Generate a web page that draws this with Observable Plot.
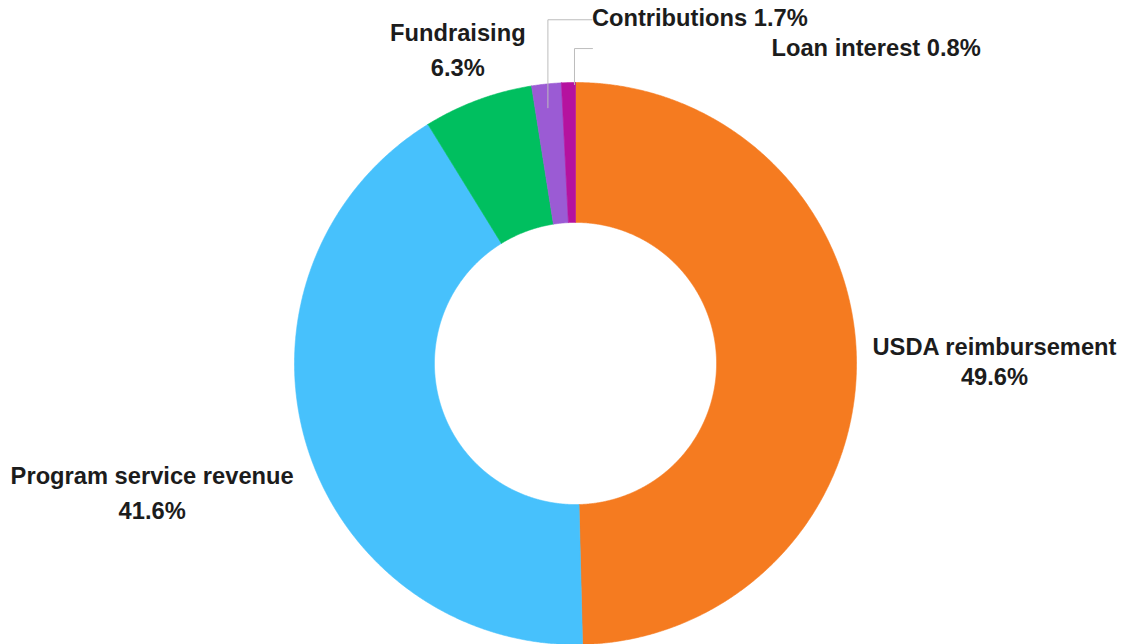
<!DOCTYPE html>
<html><head><meta charset="utf-8">
<script src="https://cdn.jsdelivr.net/npm/d3@7"></script>
<script src="https://cdn.jsdelivr.net/npm/@observablehq/plot@0.6"></script>
<style>html,body{margin:0;padding:0;background:#fff;overflow:hidden}</style>
</head><body><div id="chart"></div>
<script>
// ---- data ----
const categories = ["USDA reimbursement", "Program service revenue", "Fundraising", "Contributions", "Loan interest"];
const shares = [49.6, 41.6, 6.3, 1.7, 0.8];
const shareLabels = ["49.6%", "41.6%", "6.3%", "1.7%", "0.8%"];
const colors = ["#f57b20", "#47c1fc", "#00bf5f", "#9b5bd4", "#b5129f"];

// ---- geometry (unit circle, scaled by Plot's x/y scales) ----
const W = 1123, H = 644;
const PX = 281;                 // pixels per unit radius
const CX = 575, CY = 363;       // centre in pixels
const OUTER = 1, INNER = 0.502;

const pie = d3.pie().sort(null).value((d, i) => shares[i]).startAngle(0).endAngle(2 * Math.PI);
const arcs = pie(categories);

const rows = [];
arcs.forEach((a, i) => {
  const name = categories[i];
  const n = Math.max(2, Math.ceil((a.endAngle - a.startAngle) / (Math.PI / 720)));
  const pts = [];
  for (let k = 0; k <= n; k++) {
    const t = a.startAngle + (a.endAngle - a.startAngle) * k / n;
    pts.push([OUTER * Math.sin(t), OUTER * Math.cos(t)]);
  }
  for (let k = n; k >= 0; k--) {
    const t = a.startAngle + (a.endAngle - a.startAngle) * k / n;
    pts.push([INNER * Math.sin(t), INNER * Math.cos(t)]);
  }
  pts.push(pts[0]);
  pts.forEach(([x, y], j) => rows.push({name, x, y, j}));
});

const slices = arcs.map((a, i) => {
  const mid = (a.startAngle + a.endAngle) / 2;
  return {name: categories[i], share: shareLabels[i], mid, ax: Math.sin(mid), ay: Math.cos(mid)};
});
const byName = Object.fromEntries(slices.map(s => [s.name, s]));

// ---- label layout (pixel offsets from each slice's outer mid-point) ----
const font = "'Liberation Sans', Arial, sans-serif";
const FS = 23.7;
const blockLabels = [
  {name: "USDA reimbursement", dx: 138, dy: 0.5, lineHeight: 1.24},
  {name: "Program service revenue", dx: -154, dy: 46.5, lineHeight: 1.5},
  {name: "Fundraising", dx: -20, dy: -52.5, lineHeight: 1.47}
];
const leaderLabels = [
  {name: "Contributions", r: 0.915, shiftX: -1, up: 88, run: 44, gap: 0, tdy: -1.4},
  {name: "Loan interest", r: 0.993, shiftX: 6, up: 36, run: 18, gap: 179, tdy: -0.4}
];

const marks = [
  Plot.line(rows, {x: "x", y: "y", z: "name", fill: "name", stroke: "name", strokeWidth: 0.6, curve: "linear"})
];

for (const L of blockLabels) {
  const s = byName[L.name];
  marks.push(Plot.text([s], {
    x: "ax", y: "ay", text: d => d.name + "\n" + d.share,
    dx: L.dx, dy: L.dy, lineHeight: L.lineHeight,
    fontSize: FS, fontWeight: "bold", fontFamily: font, fill: "#1c1c1c", textAnchor: "middle"
  }));
}

for (const L of leaderLabels) {
  const s = byName[L.name];
  const x0 = L.r * Math.sin(s.mid) + L.shiftX / PX;
  const y0 = L.r * Math.cos(s.mid);
  const y1 = y0 + L.up / PX;
  const x2 = x0 + L.run / PX;
  const pts = [{x: x0, y: y0}, {x: x0, y: y1}, {x: x2, y: y1}];
  marks.push(Plot.line(pts, {x: "x", y: "y", stroke: "#bdbdbd", strokeWidth: 1}));
  marks.push(Plot.text([{x: x2, y: y1, t: s.name + " " + s.share}], {
    x: "x", y: "y", text: "t", dx: L.gap, dy: L.tdy,
    fontSize: FS, fontWeight: "bold", fontFamily: font, fill: "#1c1c1c", textAnchor: "start"
  }));
}

const chart = Plot.plot({
  width: W, height: H, margin: 0,
  style: {background: "#fff", fontFamily: font},
  x: {domain: [-CX / PX, (W - CX) / PX], axis: null},
  y: {domain: [-(H - CY) / PX, CY / PX], axis: null},
  color: {domain: categories, range: colors},
  marks
});
document.getElementById("chart").appendChild(chart);
</script>
</body></html>
